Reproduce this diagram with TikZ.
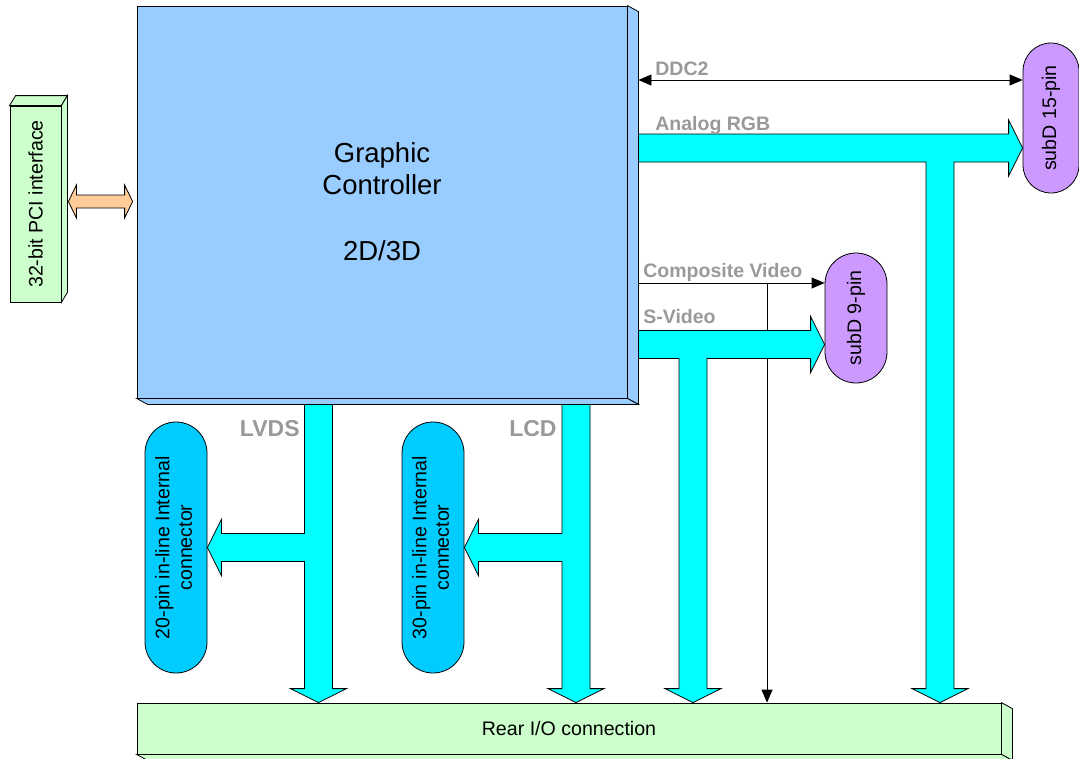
\documentclass[tikz,border=0pt]{standalone}
\usepackage{fontspec}
\setmainfont{Liberation Sans}
\usepackage{graphicx}
\usepackage{xcolor}
\usetikzlibrary{calc,arrows.meta}

\definecolor{ctrlblue}{HTML}{99CCFF}
\definecolor{boxgreen}{HTML}{CCFFCC}
\definecolor{conblue}{HTML}{00CCFF}
\definecolor{subpurple}{HTML}{CC99FF}
\definecolor{busgray}{HTML}{999999}
\definecolor{pcipeach}{HTML}{FFCC99}
\definecolor{buscyan}{HTML}{00FFFF}

\tikzset{
    front-box/.style = {draw, rectangle, inner sep=0pt},
    pill-box/.style = {draw, rectangle, inner sep=0pt, rounded corners=#1},
    pill-box/.default = 31pt,
    fat-arrow/.style = {draw, fill=buscyan},
    thin-arrow/.style = {draw, -{Triangle[length=13pt,width=11pt]}},
    bus-label/.style = {text=busgray, inner sep=0pt, font=\fontsize{19.5}{22}\selectfont\bfseries},
}

\begin{document}
\begin{tikzpicture}[x=1pt, y=-1pt, line width=0.8pt, font=\fontsize{19.6}{22.5}\selectfont]
\useasboundingbox (0,0) rectangle (1079,758);

% boxes
\node[front-box, fill=ctrlblue, minimum width=490pt, minimum height=392pt, align=center,
      font=\fontsize{27.5}{32}\selectfont] (ctrl) at (382,202) {Graphic\\Controller\\[34pt]2D/3D};
\draw[fill=ctrlblue] (ctrl.north east) -- ++(11,6) -- ($(ctrl.south east)+(11,6)$) -- (ctrl.south east) -- cycle;
\draw[fill=ctrlblue] (ctrl.south west) -- ++(11,6) -- ($(ctrl.south east)+(11,6)$) -- (ctrl.south east) -- cycle;

\node[front-box, fill=boxgreen, minimum width=51pt, minimum height=196pt] (pci) at (35.5,204) {\rotatebox{90}{32-bit PCI interface}};
\draw[fill=boxgreen] (pci.north west) -- ++(6,-10) -- ($(pci.north east)+(6,-10)$) -- (pci.north east) -- cycle;
\draw[fill=boxgreen] (pci.north east) -- ++(6,-10) -- ($(pci.south east)+(6,-10)$) -- (pci.south east) -- cycle;

\node[front-box, fill=boxgreen, minimum width=864pt, minimum height=51pt] (rear) at (569,728.5) {Rear I/O connection};
\draw[fill=boxgreen] (rear.north east) -- ++(11,6) -- ($(rear.south east)+(11,6)$) -- (rear.south east) -- cycle;
\draw[fill=boxgreen] (rear.south west) -- ++(11,6) -- ($(rear.south east)+(11,6)$) -- (rear.south east) -- cycle;

% connectors
\node[pill-box, fill=conblue, minimum width=62pt, minimum height=251pt] (con20) at (176,547.5)
    {\rotatebox{90}{\begin{tabular}{@{}c@{}}20-pin in-line Internal\\connector\end{tabular}}};
\node[pill-box, fill=conblue, minimum width=62pt, minimum height=251pt] (con30) at (433,547.5)
    {\rotatebox{90}{\begin{tabular}{@{}c@{}}30-pin in-line Internal\\connector\end{tabular}}};
\node[pill-box, fill=subpurple, minimum width=62pt, minimum height=130pt] (sub9) at (856,318) {\rotatebox{90}{subD 9-pin}};
\node[pill-box=28pt, fill=subpurple, minimum width=56pt, minimum height=150pt] (sub15) at (1051,118) {\rotatebox{90}{subD 15-pin}};

% bus lines
\coordinate (cs) at ([xshift=11pt]ctrl.east);
\coordinate (cb) at ([yshift=-6pt]ctrl.south);
\coordinate (ddc) at (0,80);
\coordinate (rgb) at (0,148);
\coordinate (comp) at (0,283);
\coordinate (sv) at (0,344.5);
\coordinate (pcibus) at (0,201.5);
\coordinate (lvds) at (318.5,0);
\coordinate (lcd) at (576,0);
\coordinate (svdown) at (693,0);
\coordinate (compdown) at (767,0);
\coordinate (rgbdown) at (940,0);
\coordinate (pciside) at ([xshift=7pt]pci.east);
\coordinate (ctrlin) at ([xshift=-4pt]ctrl.west);

\draw[fill=pcipeach] (pciside |- pcibus) -- ++(8,-16.5) -- ++(0,10) -- ($(ctrlin |- pcibus)+(-8,-6.5)$) -- ++(0,-10)
    -- (ctrlin |- pcibus) -- ++(-8,16.5) -- ++(0,-10) -- ($(pciside |- pcibus)+(8,6.5)$) -- ++(0,10) -- cycle;

\draw[thin-arrow, {Triangle[length=13pt,width=11pt]}-{Triangle[length=13pt,width=11pt]}] (cs |- ddc) -- (sub15.west |- ddc);
\draw[thin-arrow] (cs |- comp) -- (sub9.west |- comp);
\draw[thin-arrow] (compdown |- comp) -- (compdown |- rear.north);

% Analog RGB
\draw[fat-arrow] ($(cs |- rgb)+(0,-14)$) -- ($(sub15.west |- rgb)+(-14,-14)$) -- ++(0,-14) -- (sub15.west |- rgb)
    -- ++(-14,28) -- ++(0,-14) -- ($(rgbdown |- rgb)+(14,14)$) -- ($(rgbdown |- rear.north)+(14,-14)$) -- ++(14,0)
    -- (rgbdown |- rear.north) -- ++(-28,-14) -- ++(14,0) -- ($(rgbdown |- rgb)+(-14,14)$) -- ($(cs |- rgb)+(0,14)$) -- cycle;
% S-Video
\draw[fat-arrow] ($(cs |- sv)+(0,-14)$) -- ($(sub9.west |- sv)+(-14,-14)$) -- ++(0,-14) -- (sub9.west |- sv)
    -- ++(-14,28) -- ++(0,-14) -- ($(svdown |- sv)+(14,14)$) -- ($(svdown |- rear.north)+(14,-14)$) -- ++(14,0)
    -- (svdown |- rear.north) -- ++(-28,-14) -- ++(14,0) -- ($(svdown |- sv)+(-14,14)$) -- ($(cs |- sv)+(0,14)$) -- cycle;
% LVDS
\draw[fat-arrow] ($(lvds |- cb)+(-14,0)$) -- ++(28,0) -- ($(lvds |- rear.north)+(14,-14)$) -- ++(14,0)
    -- (lvds |- rear.north) -- ++(-28,-14) -- ++(14,0) -- ($(lvds |- con20.east)+(-14,14)$) -- ($(con20.east)+(14,14)$)
    -- ++(0,14) -- (con20.east) -- ++(14,-28) -- ++(0,14) -- ($(lvds |- con20.east)+(-14,-14)$) -- cycle;
% LCD
\draw[fat-arrow] ($(lcd |- cb)+(-14,0)$) -- ++(28,0) -- ($(lcd |- rear.north)+(14,-14)$) -- ++(14,0)
    -- (lcd |- rear.north) -- ++(-28,-14) -- ++(14,0) -- ($(lcd |- con30.east)+(-14,14)$) -- ($(con30.east)+(14,14)$)
    -- ++(0,14) -- (con30.east) -- ++(14,-28) -- ++(0,14) -- ($(lcd |- con30.east)+(-14,-14)$) -- cycle;

% labels
\node[bus-label, anchor=base west] (ddc-label) at (655,75) {DDC2};
\node[bus-label, anchor=base west] (rgb-label) at (655,130) {Analog RGB};
\node[bus-label, anchor=base west] (comp-label) at (643,277) {Composite Video};
\node[bus-label, anchor=base west] (sv-label) at (643,323) {S-Video};
\node[bus-label, anchor=base east, font=\fontsize{23}{26}\selectfont\bfseries] (lvds-label) at (300,436) {LVDS};
\node[bus-label, anchor=base east, font=\fontsize{23}{26}\selectfont\bfseries] (lcd-label) at (557,436) {LCD};
\end{tikzpicture}
\end{document}
